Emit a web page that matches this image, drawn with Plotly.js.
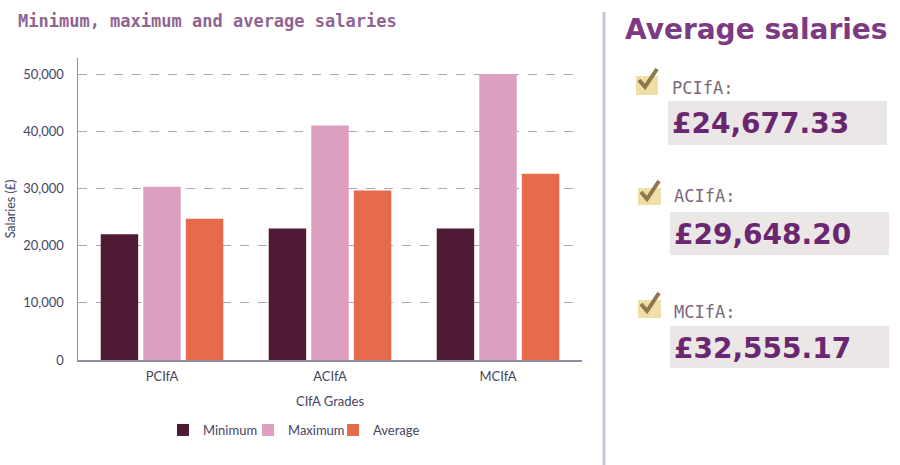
<!DOCTYPE html>
<html>
<head>
<meta charset="utf-8">
<script src="https://cdn.plot.ly/plotly-3.0.1.min.js"></script>
<style>html,body{margin:0;padding:0;background:#fff;}#chart{width:900px;height:465px;}</style>
</head>
<body>
<div id="chart"></div>
<script>
const grades = ["PCIfA", "ACIfA", "MCIfA"];
const minimum = [22000, 23000, 23000];
const maximum = [30300, 41000, 50000];
const average = [24677.33, 29648.20, 32555.17];
const seriesNames = ["Minimum", "Maximum", "Average"];
const seriesColors = ["#4f1a33", "#dea0c1", "#e56b4a"];
const avgLabels = ["PCIfA:", "ACIfA:", "MCIfA:"];
const avgValues = ["£24,677.33", "£29,648.20", "£32,555.17"];

// plot area in pixels
const L = 78, R = 582, T = 58, B = 360;
const px = x => (x - L) / (R - L);
const py = y => (B - y) / (B - T);

const traces = [minimum, maximum, average].map((vals, i) => ({
  type: "bar", x: grades, y: vals, name: seriesNames[i],
  marker: {color: seriesColors[i]}, hoverinfo: "none"
}));
// spacer entry so the last legend label is not clipped
traces.push({
  type: "scatter", mode: "markers", x: [null], y: [null], name: " ",
  marker: {color: "rgba(0,0,0,0)", opacity: 0}, showlegend: true, hoverinfo: "none"
});

const rows = [
  {cb: [636, 76, 658, 95], lab: 88, box: [668, 101, 887, 145], val: 123},
  {cb: [638, 188, 661, 205], lab: 196, box: [670, 212, 889, 255], val: 234},
  {cb: [638, 300, 661, 318], lab: 312, box: [670, 326, 889, 368], val: 348}
];

const shapes = [{
  type: "line", xref: "paper", yref: "paper",
  x0: px(604), x1: px(604), y0: py(12), y1: py(470),
  line: {color: "#c6c4d6", width: 3}
}];
const annotations = [{
  xref: "paper", yref: "paper", x: px(623), y: py(29), xanchor: "left", yanchor: "middle",
  text: "<b>Average salaries</b>", showarrow: false,
  font: {family: "DejaVu Sans, sans-serif", size: 28, color: "#7b3a82"}
}];
rows.forEach((r, i) => {
  shapes.push({
    type: "rect", xref: "paper", yref: "paper",
    x0: px(r.cb[0]), x1: px(r.cb[2]), y0: py(r.cb[3]), y1: py(r.cb[1]),
    fillcolor: "#efdfa6", line: {width: 0}
  });
  const cx = r.cb[0], cy = r.cb[1];
  shapes.push({
    type: "path", xref: "paper", yref: "paper",
    path: `M ${px(cx + 3)},${py(cy + 4)} L ${px(cx + 9)},${py(cy + 11)} L ${px(cx + 21)},${py(cy - 7)}`,
    line: {color: "#8c7a4e", width: 4}
  });
  shapes.push({
    type: "rect", xref: "paper", yref: "paper",
    x0: px(r.box[0]), x1: px(r.box[2]), y0: py(r.box[3]), y1: py(r.box[1]),
    fillcolor: "#ebe7e6", line: {width: 0}
  });
  annotations.push({
    xref: "paper", yref: "paper", x: px(r.cb[0] + 34), y: py(r.lab), xanchor: "left", yanchor: "middle",
    text: avgLabels[i], showarrow: false,
    font: {family: "DejaVu Sans Mono, monospace", size: 17, color: "#7a6878"}
  });
  annotations.push({
    xref: "paper", yref: "paper", x: px(r.box[0] + 2), y: py(r.val), xanchor: "left", yanchor: "middle",
    text: "<b>" + avgValues[i] + "</b>", showarrow: false,
    font: {family: "DejaVu Sans, sans-serif", size: 28, color: "#6a2670"}
  });
});

const layout = {
  width: 900, height: 465,
  margin: {l: L, r: 900 - R, t: T, b: 465 - B},
  paper_bgcolor: "#ffffff", plot_bgcolor: "#ffffff",
  title: {
    text: "<b>Minimum, maximum and average salaries</b>",
    x: 18 / 900, xref: "container", xanchor: "left",
    y: 1 - 21 / 465, yref: "container", yanchor: "middle",
    font: {family: "DejaVu Sans Mono, monospace", size: 17, color: "#916592"}
  },
  barmode: "group", bargap: 0.24, bargroupgap: 0.12,
  font: {family: "Lato, sans-serif", size: 13, color: "#454563"},
  xaxis: {
    showline: true, linecolor: "#8d8fa3", linewidth: 1.5, ticks: "",
    ticklabelstandoff: 4,
    tickfont: {family: "Lato", size: 13, color: "#454563"},
    title: {text: "CIfA Grades", standoff: 14, font: {family: "Lato", size: 13, color: "#454563"}}
  },
  yaxis: {
    range: [0, 52800], tickvals: [0, 10000, 20000, 30000, 40000, 50000],
    tickformat: ",", showline: true, linecolor: "#8d8fa3", linewidth: 1.5,
    gridcolor: "#a9a9b9", griddash: "dash", gridwidth: 1, zeroline: false,
    ticks: "", ticklen: 0, ticklabelstandoff: 10,
    tickfont: {family: "Lato", size: 13, color: "#454563"},
    title: {text: "Salaries (£)", standoff: 5, font: {family: "Lato", size: 12.5, color: "#454563"}}
  },
  showlegend: true,
  legend: {
    orientation: "h", x: px(333), xanchor: "center", y: py(430), yanchor: "middle",
    font: {family: "Lato", size: 13, color: "#454563"}, itemwidth: 30,
    entrywidth: 40, entrywidthmode: "pixels", traceorder: "normal"
  },
  shapes: shapes, annotations: annotations
};

Plotly.newPlot("chart", traces, layout, {displayModeBar: false, staticPlot: true});
</script>
</body>
</html>
